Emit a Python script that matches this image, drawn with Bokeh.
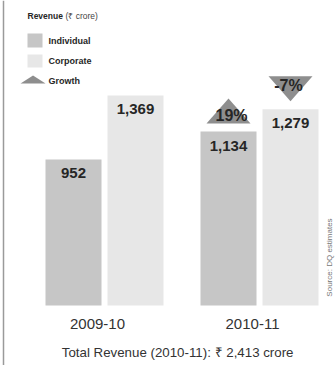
import math
from bokeh.plotting import figure
from bokeh.models import Range1d, Span
from bokeh.core.properties import value
from bokeh.embed import file_html
from bokeh.resources import INLINE

# ---- data ----
years = ["2009-10", "2010-11"]
individual = [952, 1134]
corporate = [1369, 1279]
growth_labels = ["19%", "-7%"]          # growth 2010-11 vs 2009-10 (Individual, Corporate)
growth_values = [19, -7]
total_text = "Total Revenue (2010-11): \u20b9 2,413  crore"
legend_title = "Revenue"
legend_unit = "(\u20b9 crore)"
series_names = ["Individual", "Corporate", "Growth"]
source_text = "Source: DQ estimates"

# ---- styling / layout ----
W, H = 335, 365
BASE_PX = 305          # pixel row of value 0
K = 0.1534             # pixels per crore
C_IND = "#c6c6c6"
C_COR = "#e7e7e7"
C_TRI = "#8e8e8e"
C_TXT = "#262626"
FONT = "Liberation Sans"

def py(pix):
    """pixel row (from top) -> data y"""
    return (BASE_PX - pix) / K

def dy(pix):
    return pix / K

p = figure(width=W, height=H, output_backend="svg", toolbar_location=None,
           x_range=Range1d(0, W), y_range=Range1d(py(H), py(0)),
           min_border=0, min_border_left=0, min_border_right=0,
           min_border_top=0, min_border_bottom=0,
           x_axis_type=None, y_axis_type=None)
p.xgrid.visible = False
p.ygrid.visible = False
p.outline_line_color = None
p.background_fill_color = "white"
p.border_fill_color = "white"

group_c = [104 + i * 155 for i in range(len(years))]
off = 31
bw = 56
x_ind = [c - off for c in group_c]
x_cor = [c + off for c in group_c]

p.vbar(x=x_ind, top=individual, bottom=0, width=bw, fill_color=C_IND, line_color=None)
p.vbar(x=x_cor, top=corporate, bottom=0, width=bw, fill_color=C_COR, line_color=None)

# value labels
lab_x = x_ind + x_cor
lab_v = individual + corporate
p.text(x=lab_x, y=[v - dy(14) for v in lab_v], text=[f"{v:,}" for v in lab_v],
       text_font=value(FONT), text_font_style="bold", text_font_size="15px",
       text_color=C_TXT, text_align="center", text_baseline="middle")

# growth triangles (2010-11)
last = len(years) - 1
xs, ys, tx, ty = [], [], [], []
tri_w, tri_h, gap = 44, 25, 8
for j, g in enumerate(growth_values):
    cx = x_ind[last] if j == 0 else x_cor[last]
    top = individual[last] if j == 0 else corporate[last]
    base = top + dy(gap)
    if g >= 0:
        xs.append([cx - tri_w / 2, cx + tri_w / 2, cx])
        ys.append([base, base, base + dy(tri_h)])
        tx.append(cx + 3); ty.append(base + dy(8))
    else:
        xs.append([cx - tri_w / 2, cx + tri_w / 2, cx])
        ys.append([base + dy(tri_h), base + dy(tri_h), base])
        tx.append(cx - 2); ty.append(base + dy(16))
p.patches(xs=xs, ys=ys, fill_color=C_TRI, line_color=None)
p.text(x=tx, y=ty, text=growth_labels, text_font=value(FONT), text_font_style="bold",
       text_font_size="16px", text_color=C_TXT, text_align="center", text_baseline="middle")

# category labels
p.text(x=[c - 7 for c in group_c], y=[py(323)] * len(years), text=years,
       text_font=value(FONT), text_font_size="15px", text_color="#333333",
       text_align="center", text_baseline="middle")

# total
p.text(x=[179], y=[py(352)], text=[total_text], text_font=value(FONT),
       text_font_size="13.3px", text_color="#333333", text_align="center",
       text_baseline="middle")

# legend
p.text(x=[27], y=[py(15)], text=[legend_title], text_font=value(FONT),
       text_font_style="bold", text_font_size="8.5px", text_color=C_TXT,
       text_baseline="middle")
p.text(x=[65], y=[py(15)], text=[legend_unit], text_font=value(FONT),
       text_font_size="8.5px", text_color="#444444", text_baseline="middle")
p.quad(left=[27, 27], right=[42, 42], top=[py(33), py(54)], bottom=[py(47), py(67)],
       fill_color=[C_IND, C_COR], line_color=None)
p.patches(xs=[[20, 45, 32.5]], ys=[[py(83), py(83), py(75)]], fill_color=C_TRI, line_color=None)
p.text(x=[48, 48, 48], y=[py(40), py(60), py(80)], text=series_names,
       text_font=value(FONT), text_font_style="bold", text_font_size="9px",
       text_color=C_TXT, text_baseline="middle")

# source (rotated)
p.text(x=[329], y=[py(257)], text=[source_text], angle=math.pi / 2,
       text_font=value(FONT), text_font_size="8px", text_color="#777777",
       text_align="center", text_baseline="middle")

# left border
p.add_layout(Span(location=3, dimension="height", line_color="#9a9a9a", line_width=1.5))

open("out.html", "w").write(file_html(p, INLINE))
